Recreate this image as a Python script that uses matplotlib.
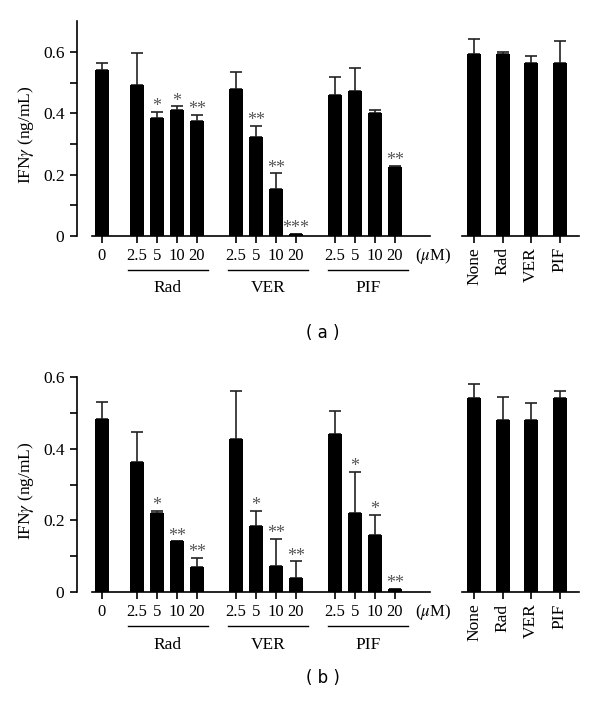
import numpy as np
import matplotlib
matplotlib.use("Agg")
import matplotlib.pyplot as plt
from matplotlib.transforms import blended_transform_factory

plt.rcParams['font.family'] = ['Liberation Serif', 'DejaVu Serif']
plt.rcParams['mathtext.fontset'] = 'stix'

# data
doses = ["2.5", "5", "10", "20"]
groups = ["Rad", "VER", "PIF"]
controls = ["None", "Rad", "VER", "PIF"]

# panel (a)
a_zero = 0.542
a_zero_err = 0.022
a_means = [[0.493, 0.385, 0.412, 0.374],
           [0.479, 0.322, 0.153, 0.008],
           [0.462, 0.473, 0.403, 0.224]]
a_errs = [[0.104, 0.020, 0.011, 0.021],
          [0.055, 0.038, 0.052, 0.0],
          [0.056, 0.074, 0.007, 0.006]]
a_stars = [["", "*", "*", "**"],
           ["", "**", "**", "***"],
           ["", "", "", "**"]]
a_ctrl = [0.593, 0.593, 0.564, 0.564]
a_ctrl_err = [0.050, 0.008, 0.023, 0.074]

# panel (b)
b_zero = 0.481
b_zero_err = 0.048
b_means = [[0.362, 0.220, 0.142, 0.071],
           [0.427, 0.184, 0.074, 0.041],
           [0.441, 0.221, 0.160, 0.010]]
b_errs = [[0.085, 0.007, 0.0, 0.025],
          [0.133, 0.043, 0.075, 0.046],
          [0.064, 0.114, 0.056, 0.0]]
b_stars = [["", "*", "**", "**"],
           ["", "*", "**", "**"],
           ["", "*", "*", "**"]]
b_ctrl = [0.540, 0.480, 0.480, 0.540]
b_ctrl_err = [0.040, 0.063, 0.046, 0.019]

W, H = 600, 705
fig = plt.figure(figsize=(6.0, 7.05), dpi=100)


def fx(px):
    return px / W


def fy(py):
    return (H - py) / H


def draw_panel(zero, zero_err, means, errs, stars, ctrl, ctrl_err,
               y0, ytop_px, ymax, caption, cap_y):
    # left axes (dose response)
    ax = fig.add_axes([fx(77), fy(y0), fx(430 - 77), (y0 - ytop_px) / H])
    pos = [0.0]
    vals = [zero]
    err = [zero_err]
    marks = [""]
    for g in range(len(groups)):
        start = 1.75 + g * 4.95
        for d in range(len(doses)):
            pos.append(start + d)
            vals.append(means[g][d])
            err.append(errs[g][d])
            marks.append(stars[g][d])
    pos = np.array(pos)
    ax.bar(pos, vals, width=0.7, color='black', zorder=2)
    ax.errorbar(pos, vals, yerr=[np.zeros(len(vals)), err], fmt='none',
                ecolor='#222222', elinewidth=1.2, capsize=4, capthick=1.2, zorder=1)
    for p, v, e, s in zip(pos, vals, err, marks):
        if s:
            ax.annotate(s, (p, v + e), xytext=(0, -2.5), textcoords='offset points',
                        ha='center', va='bottom', fontsize=13, color='#555555')
    ax.set_xlim(-1.235, 16.415)
    ax.set_ylim(0, ymax)
    ax.spines['top'].set_visible(False)
    ax.spines['right'].set_visible(False)
    ax.spines['bottom'].set_bounds(-0.485, 16.415)
    ax.spines['left'].set_bounds(0, ymax)
    for sp in ['left', 'bottom']:
        ax.spines[sp].set_linewidth(1.2)
    ax.set_yticks([0, 0.2, 0.4, 0.6])
    ax.set_yticklabels(["0", "0.2", "0.4", "0.6"])
    ax.set_yticks([0.1, 0.3, 0.5], minor=True)
    ax.tick_params(axis='y', which='both', length=5, width=1.2, labelsize=12.5, pad=4)
    ax.set_xticks(pos)
    ax.set_xticklabels(["0"] + doses * len(groups))
    ax.tick_params(axis='x', length=5, width=1.2, labelsize=12, pad=3.5)
    ax.set_ylabel(r"IFN$\gamma$ (ng/mL)", fontsize=12.5)
    ax.yaxis.set_label_coords(-0.115, 0.47)

    tr = blended_transform_factory(ax.transData, fig.transFigure)
    for g, name in enumerate(groups):
        c = 1.75 + g * 4.95 + 1.5 + 0.05 + 0.05 * g
        ax.plot([c - 1.99, c + 1.99], [fy(y0 + 33.5)] * 2, color='black', lw=1.0,
                transform=tr, clip_on=False)
        ax.text(c, fy(y0 + 52.5), name, transform=tr, ha='center', va='center',
                fontsize=12.5)
    ax.text(15.65, fy(y0 + 19.5), r"($\mu$M)", transform=tr, ha='left', va='center',
            fontsize=12)

    # right axes (controls)
    ax2 = fig.add_axes([fx(461.7), fy(y0), fx(579.3 - 461.7), (y0 - ytop_px) / H])
    cpos = np.arange(len(controls))
    ax2.bar(cpos, ctrl, width=0.49, color='black', zorder=2)
    ax2.errorbar(cpos, ctrl, yerr=[np.zeros(len(ctrl)), ctrl_err], fmt='none',
                 ecolor='#222222', elinewidth=1.2, capsize=4, capthick=1.2, zorder=1)
    ax2.set_xlim(-0.447, 3.69)
    ax2.set_ylim(0, ymax)
    for sp in ['top', 'right', 'left']:
        ax2.spines[sp].set_visible(False)
    ax2.spines['bottom'].set_linewidth(1.2)
    ax2.set_yticks([])
    ax2.set_xticks(cpos)
    ax2.set_xticklabels(controls, rotation=90, fontsize=12.5)
    ax2.tick_params(axis='x', length=5, width=1.2, pad=3)

    fig.text(fx(323), fy(cap_y), caption, ha='center', va='center',
             fontsize=12, family='DejaVu Sans')


draw_panel(a_zero, a_zero_err, a_means, a_errs, a_stars, a_ctrl, a_ctrl_err,
           236, 20.7, 0.703, "( a )", 333)
draw_panel(b_zero, b_zero_err, b_means, b_errs, b_stars, b_ctrl, b_ctrl_err,
           592.3, 376.7, 0.6, "( b )", 678)

fig.savefig("out.png", dpi=100)
